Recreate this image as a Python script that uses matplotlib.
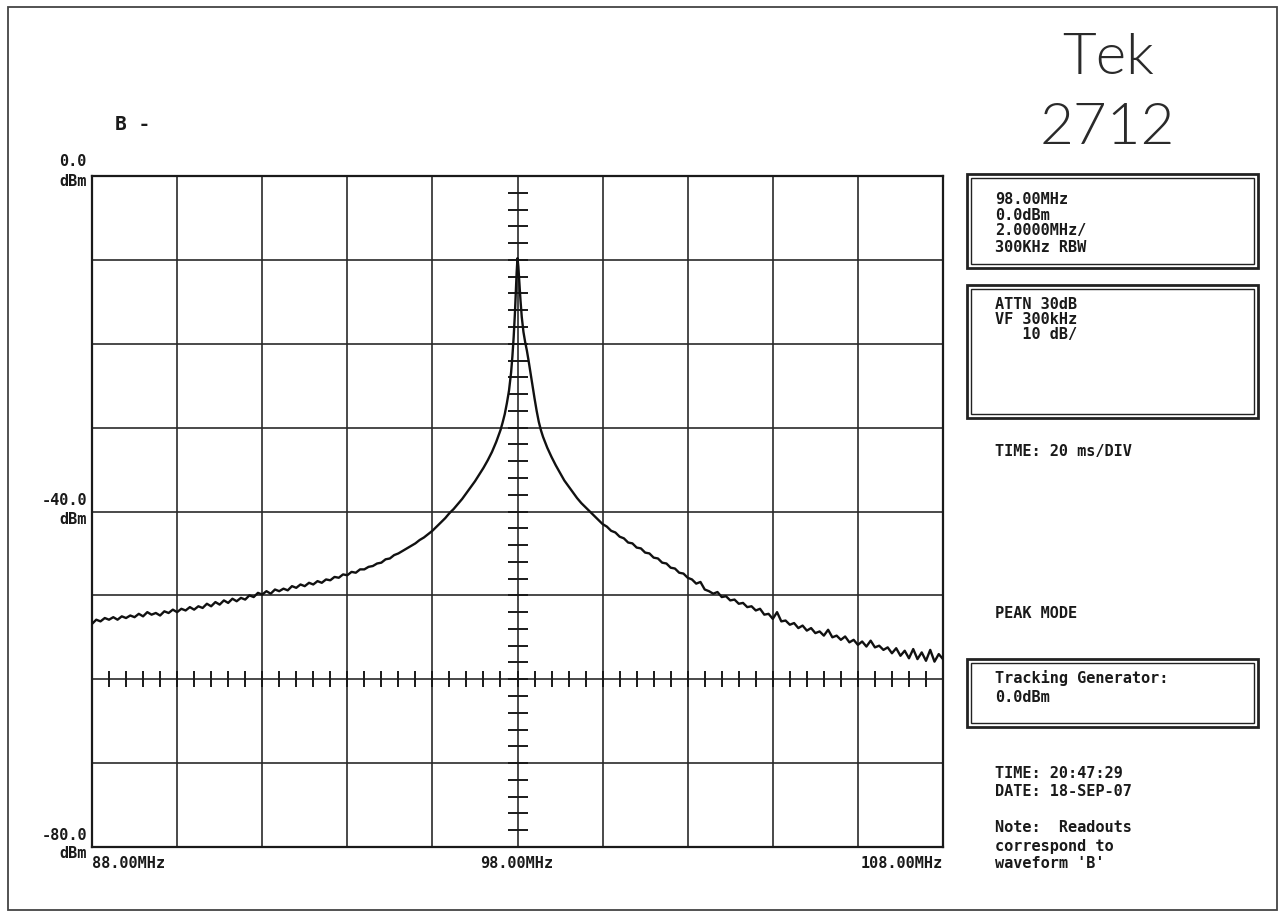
import numpy as np
import matplotlib
matplotlib.use("Agg")
import matplotlib.pyplot as plt
from matplotlib.patches import Rectangle

W, H = 1284, 915

# trace (MHz, dBm)
trace_mhz = [
    88.0, 88.1, 88.2, 88.3, 88.4, 88.5, 88.6, 88.7, 88.8, 88.9,
    89.0, 89.1, 89.2, 89.3, 89.4, 89.5, 89.6, 89.7, 89.8, 89.9,
    90.0, 90.1, 90.2, 90.3, 90.4, 90.5, 90.6, 90.7, 90.8, 90.9,
    91.0, 91.1, 91.2, 91.3, 91.4, 91.5, 91.6, 91.7, 91.8, 91.9,
    92.0, 92.1, 92.2, 92.3, 92.4, 92.5, 92.6, 92.7, 92.8, 92.9,
    93.0, 93.1, 93.2, 93.3, 93.4, 93.5, 93.6, 93.7, 93.8, 93.9,
    94.0, 94.1, 94.2, 94.3, 94.4, 94.5, 94.6, 94.7, 94.8, 94.9,
    95.0, 95.1, 95.2, 95.3, 95.4, 95.5, 95.6, 95.7, 95.8, 95.9,
    96.0, 96.1, 96.2, 96.3, 96.4, 96.5, 96.6, 96.7, 96.8, 96.9,
    97.0, 97.1, 97.2, 97.3, 97.4, 97.5, 97.6, 97.65, 97.7, 97.75,
    97.8, 97.85, 97.88, 97.91, 97.94, 97.96, 97.98, 98.0, 98.02, 98.04,
    98.07, 98.1, 98.14, 98.18, 98.22, 98.26, 98.3, 98.35, 98.4, 98.45,
    98.5, 98.55, 98.6, 98.7, 98.8, 98.9, 99.0,
    99.1, 99.2, 99.3, 99.4, 99.5, 99.6, 99.7, 99.8, 99.9,
    100.0, 100.1, 100.2, 100.3, 100.4, 100.5, 100.6, 100.7, 100.8, 100.9,
    101.0, 101.1, 101.2, 101.3, 101.4, 101.5, 101.6, 101.7, 101.8, 101.9,
    102.0, 102.1, 102.2, 102.3, 102.4, 102.5, 102.6, 102.7, 102.8, 102.9,
    103.0, 103.1, 103.2, 103.3, 103.4, 103.5, 103.6, 103.7, 103.8, 103.9,
    104.0, 104.1, 104.2, 104.3, 104.4, 104.5, 104.6, 104.7, 104.8, 104.9,
    105.0, 105.1, 105.2, 105.3, 105.4, 105.5, 105.6, 105.7, 105.8, 105.9,
    106.0, 106.1, 106.2, 106.3, 106.4, 106.5, 106.6, 106.7, 106.8, 106.9,
    107.0, 107.1, 107.2, 107.3, 107.4, 107.5, 107.6, 107.7, 107.8, 107.9,
    108.0,
]
trace_dbm = [
    -53.4, -52.9, -53.1, -52.7, -52.9, -52.6, -52.9, -52.5, -52.7, -52.4,
    -52.6, -52.2, -52.5, -52.0, -52.3, -52.1, -52.4, -51.9, -52.1, -51.7,
    -52.0, -51.6, -51.8, -51.4, -51.7, -51.3, -51.5, -51.0, -51.3, -50.8,
    -51.1, -50.6, -50.9, -50.4, -50.7, -50.3, -50.5, -50.0, -50.2, -49.7,
    -49.9, -49.5, -49.8, -49.3, -49.5, -49.2, -49.4, -48.9, -49.1, -48.7,
    -48.9, -48.5, -48.7, -48.3, -48.5, -48.1, -48.2, -47.8, -47.9, -47.5,
    -47.6, -47.2, -47.3, -46.9, -46.9, -46.6, -46.5, -46.2, -46.1, -45.7,
    -45.6, -45.2, -45.0, -44.7, -44.4, -44.1, -43.8, -43.4, -43.1, -42.7,
    -42.3, -41.8, -41.3, -40.8, -40.2, -39.7, -39.1, -38.5, -37.8, -37.1,
    -36.4, -35.6, -34.8, -33.9, -32.9, -31.7, -30.3, -29.4, -28.4, -27.1,
    -25.6, -23.4, -21.5, -19.2, -16.3, -13.9, -11.5, -9.8, -10.8, -12.4,
    -14.8, -16.8, -18.6, -19.8, -20.8, -22.0, -23.3, -25.0, -26.5, -28.0,
    -29.3, -30.3, -31.1, -32.4, -33.5, -34.5, -35.4,
    -36.3, -37.0, -37.7, -38.4, -39.0, -39.5, -40.0, -40.5, -41.0,
    -41.5, -41.8, -42.3, -42.5, -43.0, -43.2, -43.7, -43.8, -44.3, -44.4,
    -44.9, -45.0, -45.5, -45.6, -46.1, -46.2, -46.7, -46.8, -47.3, -47.4,
    -47.9, -48.1, -48.6, -48.4, -49.3, -49.5, -49.8, -49.6, -50.2, -50.1,
    -50.6, -50.5, -51.0, -50.9, -51.4, -51.3, -51.8, -51.6, -52.3, -52.2,
    -52.8, -52.0, -53.1, -53.0, -53.5, -53.3, -53.9, -53.6, -54.2, -53.9,
    -54.5, -54.3, -54.8, -54.1, -55.0, -54.8, -55.3, -54.9, -55.6, -55.3,
    -55.9, -55.5, -56.1, -55.4, -56.2, -56.0, -56.5, -56.2, -56.9, -56.3,
    -57.2, -56.6, -57.5, -56.4, -57.6, -56.8, -57.8, -56.5, -57.9, -57.0,
    -57.6,
]

# screen setup
f_start, f_center, f_stop = 88.0, 98.0, 108.0
ref_level, db_per_div, n_ydiv = 0.0, 10.0, 8
mhz_per_div, n_xdiv = 2.0, 10

y_labels = [(0.0, "0.0"), (-40.0, "-40.0"), (-80.0, "-80.0")]
x_labels = ["88.00MHz", "98.00MHz", "108.00MHz"]

readout_1 = ["98.00MHz", "0.0dBm", "2.0000MHz/", "300KHz RBW"]
readout_2 = ["ATTN 30dB", "VF 300kHz", "   10 dB/"]
tracking = ["Tracking Generator:", "0.0dBm"]
stamp = ["TIME: 20:47:29", "DATE: 18-SEP-07"]
note = ["Note:  Readouts", "correspond to", "waveform 'B'"]

mono = dict(family=["DejaVu Sans Mono"], weight="bold", fontsize=11, color="#1a1a1a")


def px(x, y):
    # pixel position -> figure fraction
    return x / W, 1 - y / H


def box(fig, x0, y0, x1, y1):
    # double-line readout box
    for inset, lw in ((0, 2.0), (4, 1.0)):
        fig.add_artist(Rectangle(px(x0 + inset, y1 - inset),
                                 (x1 - x0 - 2 * inset) / W, (y1 - y0 - 2 * inset) / H,
                                 transform=fig.transFigure, fill=False,
                                 ec="#222222", lw=lw))


fig = plt.figure(figsize=(W / 100, H / 100), dpi=100)
fig.patch.set_facecolor("white")

# page border
fig.add_artist(Rectangle(px(8, 910), (1277 - 8) / W, (910 - 7) / H,
                         transform=fig.transFigure, fill=False, ec="#444444", lw=1.3))

ax = fig.add_axes([92 / W, 1 - 847 / H, 851 / W, 671 / H])
ax.set_xlim(f_start, f_stop)
ax.set_ylim(ref_level - n_ydiv * db_per_div, ref_level)
ax.set_xticks([])
ax.set_yticks([])
for s in ax.spines.values():
    s.set_linewidth(1.6)
    s.set_color("#1a1a1a")

# graticule
for i in range(1, n_xdiv):
    ax.axvline(f_start + i * mhz_per_div, color="#2a2a2a", lw=1.2, zorder=1)
for i in range(1, n_ydiv):
    ax.axhline(ref_level - i * db_per_div, color="#2a2a2a", lw=1.2, zorder=1)

# minor ticks on the centre lines
vt = np.arange(ref_level - n_ydiv * db_per_div, ref_level + 0.1, db_per_div / 5)
ax.plot(np.full(len(vt), f_center), vt, ls="none", marker="_", ms=15, mew=1.4,
        color="#1a1a1a", zorder=2)
ht = np.arange(f_start, f_stop + 0.01, mhz_per_div / 5)
tick_row = ref_level - 6 * db_per_div
ax.plot(ht, np.full(len(ht), tick_row), ls="none", marker="|", ms=12, mew=1.4,
        color="#1a1a1a", zorder=2)

# trace
ax.plot(trace_mhz, trace_dbm, color="#111111", lw=1.7, zorder=3)

# level labels
for (lvl, lab), yc in zip(y_labels, (162, 501, 835)):
    fig.text(*px(87, yc), lab, ha="right", va="center", **mono)
    fig.text(*px(87, yc + 19), "dBm", ha="right", va="center", **mono)

# frequency labels
fig.text(*px(92, 864), x_labels[0], ha="left", va="center", **mono)
fig.text(*px(517, 864), x_labels[1], ha="center", va="center", **mono)
fig.text(*px(943, 864), x_labels[2], ha="right", va="center", **mono)

fig.text(*px(115, 125), "B -", ha="left", va="center",
         family=["DejaVu Sans Mono"], weight="bold", fontsize=14, color="#1a1a1a")

# title
fig.text(*px(1108, 58), "Tek", ha="center", va="center",
         family=["Lato", "DejaVu Sans"], weight=300, fontsize=42, color="#2a2a2a")
fig.text(*px(1107, 128), "2712", ha="center", va="center",
         family=["Lato", "DejaVu Sans"], weight=300, fontsize=42, color="#2a2a2a")

# readout panel
box(fig, 967, 174, 1258, 268)
for i, t in enumerate(readout_1):
    fig.text(*px(995, 199 + 16 * i), t, ha="left", va="center", **mono)

box(fig, 967, 285, 1258, 418)
for i, t in enumerate(readout_2):
    fig.text(*px(995, 305 + 15 * i), t, ha="left", va="center", **mono)

fig.text(*px(995, 452), "TIME: 20 ms/DIV", ha="left", va="center", **mono)
fig.text(*px(995, 614), "PEAK MODE", ha="left", va="center", **mono)

box(fig, 967, 659, 1258, 727)
for i, t in enumerate(tracking):
    fig.text(*px(995, 678 + 19 * i), t, ha="left", va="center", **mono)

for i, t in enumerate(stamp):
    fig.text(*px(995, 773 + 18 * i), t, ha="left", va="center", **mono)
for i, t in enumerate(note):
    fig.text(*px(995, 828 + 18 * i), t, ha="left", va="center", **mono)

fig.savefig("out.png", dpi=100, facecolor="white")
